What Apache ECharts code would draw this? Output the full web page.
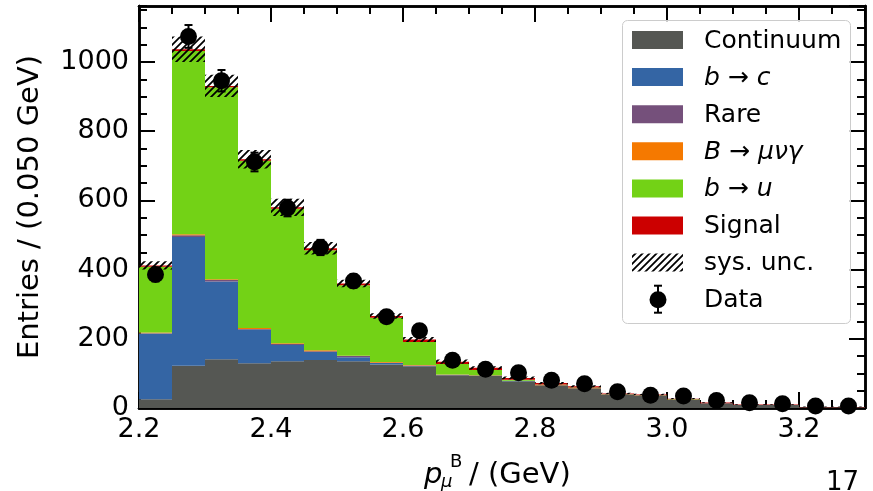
<!DOCTYPE html>
<html><head><meta charset="utf-8">
<script src="https://cdn.jsdelivr.net/npm/echarts@6/dist/echarts.min.js"></script>
<style>html,body{margin:0;padding:0;background:#fff}#c{width:873px;height:491px}</style>
</head><body><div id="c"></div>
<script>
// ---- data (bins of 0.050 GeV) ----
const binLow  = [2.20,2.25,2.30,2.35,2.40,2.45,2.50,2.55,2.60,2.65,2.70,2.75,2.80,2.85,2.90,2.95,3.00,3.05,3.10,3.15,3.20,3.25];
const binHigh = [2.25,2.30,2.35,2.40,2.45,2.50,2.55,2.60,2.65,2.70,2.75,2.80,2.85,2.90,2.95,3.00,3.05,3.10,3.15,3.20,3.25,3.30];
const continuum  = [25,122,141,129,135,139,135,126,121,95,94,77,66,57,39,36,24,14,9,9,2,2];
const bToC       = [190,372,225,97,47,23,12,4,1,0,0,2,0,0,0,0,0,0,0,0,0,0];
const rare       = [1,5,4,2,3,2,3,1,1,1,0,0,0,0,0,0,0,0,0,0,0,0];
const bMuNuGamma = [2,3,2,3,2,3,1,2,1,1,1,0,1,1,0,0,0,0,0,0,0,0];
const bToU       = [190,530,555,484,389,289,204,128,67,30,15,3,1,1,1,1,1,0,0,0,0,0];
const signal     = [4,5,4,4,4,6,5,5,7,7,6,5,4,4,2,2,2,2,1,1,1,1];
const sysUnc     = [12,37,32,27,25,18,11,8,7,6,5,4,3,3,2,2,2,1,1,1,1,1];
const dataVals   = [386,1074,946,711,578,464,367,264,223,138,112,102,80,70,47,37,35,22,15,12,6,6];
const dataErr    = [20,33,31,27,24,22,19,16,15,12,11,10,9,8,7,6,6,5,4,3,2,2];
const xTicks = [2.2,2.4,2.6,2.8,3.0,3.2];
const yTicks = [0,200,400,600,800,1000];

const components = [
  {name:'Continuum', vals:continuum,  color:'#555753'},
  {name:'b→c',       vals:bToC,       color:'#3465a4'},
  {name:'Rare',      vals:rare,       color:'#75507b'},
  {name:'B→μνγ',     vals:bMuNuGamma, color:'#f57900'},
  {name:'b→u',       vals:bToU,       color:'#73d216'},
  {name:'Signal',    vals:signal,     color:'#cc0000'}
];

const FONT = 'DejaVu Sans';

// hatch pattern
const hc = document.createElement('canvas');
hc.width = 7; hc.height = 7;
const hctx = hc.getContext('2d');
hctx.strokeStyle = '#000'; hctx.lineWidth = 1.8; hctx.lineCap = 'square';
hctx.beginPath();
hctx.moveTo(0,7); hctx.lineTo(7,0);
hctx.moveTo(-1,1); hctx.lineTo(1,-1);
hctx.moveTo(6,8); hctx.lineTo(8,6);
hctx.stroke();
const hatch = {image: hc, repeat: 'repeat'};

function rectItem(fill) {
  return function (params, api) {
    const p0 = api.coord([api.value(0), api.value(2)]);
    const p1 = api.coord([api.value(1), api.value(3)]);
    const x0 = Math.round(p0[0]), x1 = Math.round(p1[0]);
    return {type:'rect', shape:{x:x0, y:p1[1], width:x1-x0, height:p0[1]-p1[1]}, style:{fill:fill}};
  };
}

const series = [];
const cum = binLow.map(() => 0);
components.forEach((c, k) => {
  const d = binLow.map((lo, i) => {
    const a = cum[i]; cum[i] += c.vals[i];
    return [lo, binHigh[i], a, cum[i]];
  });
  series.push({type:'custom', name:c.name, xAxisIndex:0, yAxisIndex:0, z:2+k*0.01,
    renderItem: rectItem(c.color), data:d, encode:{x:[0,1], y:[2,3]}, silent:true, animation:false});
});
// systematic band
series.push({type:'custom', name:'sys. unc.', xAxisIndex:0, yAxisIndex:0, z:3,
  renderItem: rectItem(hatch),
  data: binLow.map((lo,i)=>[lo, binHigh[i], cum[i]-sysUnc[i], cum[i]+sysUnc[i]]),
  encode:{x:[0,1], y:[2,3]}, silent:true, animation:false});
// error bars
series.push({type:'custom', name:'err', xAxisIndex:0, yAxisIndex:0, z:4,
  renderItem(params, api){
    const c = (api.value(0)+api.value(1))/2;
    const lo = api.coord([c, api.value(2)-api.value(3)]);
    const hi = api.coord([c, api.value(2)+api.value(3)]);
    const st = {stroke:'#000', lineWidth:2};
    return {type:'group', children:[
      {type:'line', shape:{x1:lo[0], y1:lo[1], x2:hi[0], y2:hi[1]}, style:st},
      {type:'line', shape:{x1:lo[0]-4, y1:lo[1], x2:lo[0]+4, y2:lo[1]}, style:st},
      {type:'line', shape:{x1:hi[0]-4, y1:hi[1], x2:hi[0]+4, y2:hi[1]}, style:st}
    ]};
  },
  data: binLow.map((lo,i)=>[lo, binHigh[i], dataVals[i], dataErr[i]]),
  encode:{x:[0,1], y:2}, silent:true, animation:false});
series.push({type:'scatter', name:'Data', xAxisIndex:0, yAxisIndex:0, z:5,
  data: binLow.map((lo,i)=>[(lo+binHigh[i])/2, dataVals[i]]),
  symbol:'circle', symbolSize:17, itemStyle:{color:'#000', opacity:1}, silent:true, animation:false});

function xAx(pos, interval, len, labels) {
  return {type:'value', position:pos, min:2.2, max:3.3, interval:interval,
    axisLine:{show:true, onZero:false, lineStyle:{color:'#000', width:2.5}},
    axisTick:{show:true, inside:true, length:len, lineStyle:{color:'#000', width:2}},
    axisLabel:{show:labels, fontSize:27, fontFamily:FONT, color:'#000', margin:8, showMaxLabel:false,
      formatter: v => xTicks.some(t => Math.abs(t-v)<1e-6) ? v.toFixed(1) : ''},
    splitLine:{show:false}};
}
function yAx(pos, interval, len, labels) {
  return {type:'value', position:pos, min:0, max:1162, interval:interval,
    axisLine:{show:true, onZero:false, lineStyle:{color:'#000', width:2.5}},
    axisTick:{show:true, inside:true, length:len, lineStyle:{color:'#000', width:2}},
    axisLabel:{show:labels, fontSize:27, fontFamily:FONT, color:'#000', margin:10, showMaxLabel:false,
      formatter: v => yTicks.indexOf(Math.round(v))>=0 && Math.abs(v-Math.round(v))<1e-6 ? String(Math.round(v)) : ''},
    splitLine:{show:false}};
}
const yMain = yAx('left', 200, 16, true);
yMain.name = 'Entries / (0.050 GeV)';
yMain.nameLocation = 'middle';
yMain.nameGap = 94;
yMain.nameTextStyle = {fontSize:29, fontFamily:FONT, color:'#000'};

// legend (graphic)
const legendRows = [
  {text:'Continuum', color:'#555753'},
  {text:'{i|b} → {i|c}', color:'#3465a4'},
  {text:'Rare', color:'#75507b'},
  {text:'{i|B} → {i|μνγ}', color:'#f57900'},
  {text:'{i|b} → {i|u}', color:'#73d216'},
  {text:'Signal', color:'#cc0000'},
  {text:'sys. unc.', color:'hatch'},
  {text:'Data', color:'data'}
];
const gfx = [{type:'rect', z:100, shape:{x:622.5, y:20.5, width:228, height:303, r:5},
  style:{fill:'rgba(255,255,255,0.8)', stroke:'#cccccc', lineWidth:1}}];
legendRows.forEach((r, i) => {
  const cy = 40 + i*37.1;
  if (r.color === 'hatch') {
    gfx.push({type:'rect', z:101, shape:{x:632, y:cy-9, width:51, height:18}, style:{fill:hatch}});
  } else if (r.color === 'data') {
    gfx.push({type:'line', z:101, shape:{x1:658, y1:cy-14, x2:658, y2:cy+13}, style:{stroke:'#000', lineWidth:2}});
    gfx.push({type:'line', z:101, shape:{x1:654, y1:cy-14, x2:662, y2:cy-14}, style:{stroke:'#000', lineWidth:2}});
    gfx.push({type:'line', z:101, shape:{x1:654, y1:cy+13, x2:662, y2:cy+13}, style:{stroke:'#000', lineWidth:2}});
    gfx.push({type:'circle', z:102, shape:{cx:658, cy:cy, r:8.5}, style:{fill:'#000'}});
  } else {
    gfx.push({type:'rect', z:101, shape:{x:632, y:cy-9, width:51, height:18}, style:{fill:r.color}});
  }
  gfx.push({type:'text', z:101, style:{text:r.text, x:704, y:cy+1, verticalAlign:'middle', align:'left',
    fontSize:25, fontFamily:FONT, fill:'#000',
    rich:{i:{fontStyle:'italic', fontSize:25, fontFamily:FONT, fill:'#000'}}}});
});
// x-axis title p_mu^B / (GeV)
gfx.push({type:'text', z:101, style:{text:'p', x:424, y:475, verticalAlign:'middle', fontSize:29, fontStyle:'italic', fontFamily:FONT, fill:'#000'}});
gfx.push({type:'text', z:101, style:{text:'B', x:450, y:462, verticalAlign:'middle', fontSize:18, fontFamily:FONT, fill:'#000'}});
gfx.push({type:'text', z:101, style:{text:'μ', x:441, y:482, verticalAlign:'middle', fontSize:18, fontStyle:'italic', fontFamily:FONT, fill:'#000'}});
gfx.push({type:'text', z:101, style:{text:'/ (GeV)', x:469, y:475, verticalAlign:'middle', fontSize:29, fontFamily:FONT, fill:'#000'}});
gfx.push({type:'text', z:101, style:{text:'17', x:859, y:483, align:'right', verticalAlign:'middle', fontSize:26, fontFamily:FONT, fill:'#000'}});

const chart = echarts.init(document.getElementById('c'), null, {renderer:'canvas'});
chart.setOption({
  animation:false,
  backgroundColor:'#fff',
  grid:{left:139, right:8, top:6, bottom:83, containLabel:false, outerBoundsMode:'none'},
  xAxis:[xAx('bottom',0.2,16,true), xAx('bottom',0.05,8,false), xAx('top',0.2,16,false), xAx('top',0.05,8,false)],
  yAxis:[yMain, yAx('left',50,8,false), yAx('right',200,16,false), yAx('right',50,8,false)],
  series: series,
  graphic: gfx
});
</script>
</body></html>
